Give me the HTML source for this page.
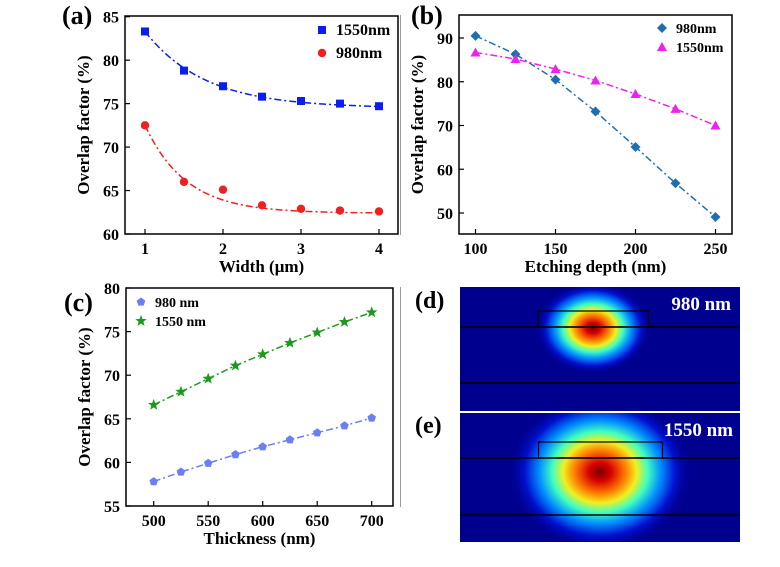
<!DOCTYPE html>
<html><head><meta charset="utf-8"><style>
html,body{margin:0;padding:0;background:#fff;}
svg{display:block;font-family:"Liberation Serif",serif;font-weight:bold;}
</style></head><body>
<svg id="s" width="780" height="567" viewBox="0 0 780 567" xmlns="http://www.w3.org/2000/svg">
<defs>
<radialGradient id="jet">
<stop offset="0" stop-color="#7a0000"/>
<stop offset="0.12" stop-color="#d80000"/>
<stop offset="0.28" stop-color="#ff8000"/>
<stop offset="0.4" stop-color="#f0f020"/>
<stop offset="0.52" stop-color="#40ffc0"/>
<stop offset="0.66" stop-color="#0090ff"/>
<stop offset="0.82" stop-color="#0010d0"/>
<stop offset="1" stop-color="#00008f" stop-opacity="0"/>
</radialGradient>
<clipPath id="cd"><rect x="460" y="287" width="280" height="124"/></clipPath>
<clipPath id="ce"><rect x="460" y="413" width="280" height="129"/></clipPath>
</defs>
<line x1="400.5" y1="15" x2="400.5" y2="235" stroke="#999" stroke-width="1"/>
<line x1="400.5" y1="287" x2="400.5" y2="507" stroke="#999" stroke-width="1"/>
<rect x="460" y="287" width="280" height="124" fill="#00008f"/>
<g clip-path="url(#cd)"><ellipse cx="593" cy="328" rx="58" ry="46" fill="url(#jet)"/></g>
<rect x="538.5" y="311" width="110" height="16" fill="none" stroke="#000" stroke-width="1.2"/>
<line x1="460" y1="327" x2="740" y2="327" stroke="#000" stroke-width="1.5"/>
<line x1="460" y1="383" x2="740" y2="383" stroke="#000" stroke-width="1.5"/>
<text x="731" y="310" fill="#fff" font-size="19" text-anchor="end">980 nm</text>
<rect x="460" y="413" width="280" height="129" fill="#00008f"/>
<g clip-path="url(#ce)"><ellipse cx="600" cy="472" rx="92" ry="78" fill="url(#jet)"/></g>
<rect x="538.5" y="442" width="124" height="16" fill="none" stroke="#000" stroke-width="1.2"/>
<line x1="460" y1="458" x2="740" y2="458" stroke="#000" stroke-width="1.5"/>
<line x1="460" y1="515" x2="740" y2="515" stroke="#000" stroke-width="1.5"/>
<text x="733" y="436" fill="#fff" font-size="19" text-anchor="end">1550 nm</text>
<text x="415" y="308" font-size="24">(d)</text>
<text x="415" y="433" font-size="24">(e)</text>
<g id="plots"></g>
</svg>
<script>
const NS="http://www.w3.org/2000/svg",G=document.getElementById("plots");
function el(t,a,txt){const e=document.createElementNS(NS,t);for(const k in a)e.setAttribute(k,a[k]);if(txt!==undefined)e.textContent=txt;G.appendChild(e);return e;}
function marker(type,x,y,c){
 if(type=="sq")el("rect",{x:x-4,y:y-4,width:8,height:8,fill:c});
 else if(type=="ci")el("circle",{cx:x,cy:y,r:4.2,fill:c});
 else if(type=="di")el("polygon",{points:`${x},${y-5} ${x+5},${y} ${x},${y+5} ${x-5},${y}`,fill:c});
 else if(type=="tr")el("polygon",{points:`${x},${y-5} ${x+5},${y+4} ${x-5},${y+4}`,fill:c});
 else if(type=="pe"){let p=[];for(let i=0;i<5;i++){let a=-Math.PI/2+i*2*Math.PI/5;p.push((x+4.5*Math.cos(a))+","+(y+4.5*Math.sin(a)));}el("polygon",{points:p.join(" "),fill:c});}
 else if(type=="st"){let p=[];for(let i=0;i<10;i++){let r=i%2?2.5:6,a=-Math.PI/2+i*Math.PI/5;p.push((x+r*Math.cos(a))+","+(y+r*Math.sin(a)));}el("polygon",{points:p.join(" "),fill:c});}
}
function panel(o){
 const X=v=>o.x0p+(v-o.x0)*(o.x1p-o.x0p)/(o.x1-o.x0), Y=v=>o.y0p+(v-o.y0)*(o.y1p-o.y0p)/(o.y1-o.y0);
 el("rect",{x:o.L,y:o.T,width:o.R-o.L,height:o.B-o.T,fill:"none",stroke:"#000","stroke-width":1.5});
 o.xt.forEach(v=>{el("line",{x1:X(v),y1:o.B,x2:X(v),y2:o.B-5,stroke:"#000","stroke-width":1.2});el("text",{x:X(v),y:o.B+20,"font-size":16,"text-anchor":"middle"},v);});
 o.yt.forEach(v=>{el("line",{x1:o.L,y1:Y(v),x2:o.L+5,y2:Y(v),stroke:"#000","stroke-width":1.2});el("text",{x:o.L-6,y:Y(v)+6,"font-size":16,"text-anchor":"end"},v);});
 el("text",{x:(o.L+o.R)/2,y:o.B+38,"font-size":17,"text-anchor":"middle"},o.xl);
 const cx=o.L-36,cy=(o.T+o.B)/2;
 el("text",{x:cx,y:cy,"font-size":17,"text-anchor":"middle",transform:`rotate(-90 ${cx} ${cy})`},"Overlap factor (%)");
 el("text",{x:o.lx,y:o.ly,"font-size":26},o.lab);
 o.s.forEach((s,i)=>{
  let pts=s.d.map((v,j)=>[X(o.xs[j]),Y(v)]);
  let path=s.fit?s.fit.map(p=>[X(p[0]),Y(p[1])]):pts;
  el("polyline",{points:path.map(p=>p.join(",")).join(" "),fill:"none",stroke:s.c,"stroke-width":1.5,"stroke-dasharray":"7 3 2 3"});
  pts.forEach(p=>marker(s.m,p[0],p[1],s.c));
  marker(s.m,o.legx,o.legy+i*o.legd,s.c);
  el("text",{x:o.legx+14,y:o.legy+i*o.legd+5,"font-size":o.lfs},s.n);
 });
}
function expfit(xs,d,k){
 const a=d[d.length-1]-0.2,b=(d[0]-a)/Math.exp(-k*xs[0]);let r=[];
 for(let x=xs[0];x<=xs[xs.length-1]+1e-9;x+=0.05)r.push([x,a+b*Math.exp(-k*x)]);return r;}
const xa=[1,1.5,2,2.5,3,3.5,4];
const a1=[83.3,78.8,77,75.8,75.3,75,74.7],a2=[72.5,66,65.1,63.3,62.9,62.7,62.6];
panel({L:125,R:398,T:16,B:234,x0:1,x1:4,x0p:145,x1p:379,y0:60,y1:85,y0p:234,y1p:16.7,
 xt:[1,2,3,4],yt:[60,65,70,75,80,85],xl:"Width (μm)",lab:"(a)",lx:62,ly:24,xs:xa,
 legx:322,legy:30,legd:23,lfs:16,
 s:[{d:a1,c:"#0a1ef0",m:"sq",n:"1550nm",fit:expfit(xa,a1,1.3)},{d:a2,c:"#f02020",m:"ci",n:"980nm",fit:expfit(xa,a2,1.9)}]});
const xb=[100,125,150,175,200,225,250];
panel({L:459,R:732,T:15,B:234,x0:100,x1:250,x0p:475.5,x1p:715.5,y0:50,y1:90,y0p:213,y1p:38,
 xt:[100,150,200,250],yt:[50,60,70,80,90],xl:"Etching depth (nm)",lab:"(b)",lx:411,ly:24,xs:xb,
 legx:662,legy:28,legd:19,lfs:14,
 s:[{d:[90.5,86.3,80.5,73.2,65.1,56.8,49.1],c:"#1f6fb0",m:"di",n:"980nm"},{d:[86.7,85.2,82.9,80.3,77.2,73.8,70],c:"#f020f0",m:"tr",n:"1550nm"}]});
const xc=[500,525,550,575,600,625,650,675,700];
panel({L:126,R:393,T:288,B:506,x0:500,x1:700,x0p:153.7,x1p:371.7,y0:55,y1:80,y0p:506,y1p:288,
 xt:[500,550,600,650,700],yt:[55,60,65,70,75,80],xl:"Thickness (nm)",lab:"(c)",lx:64,ly:311,xs:xc,
 legx:141,legy:302,legd:19,lfs:14,
 s:[{d:[57.8,58.9,59.9,60.9,61.8,62.6,63.4,64.2,65.1],c:"#6a7ef5",m:"pe",n:"980 nm"},{d:[66.6,68.1,69.6,71.1,72.4,73.7,74.9,76.1,77.2],c:"#1a9a1a",m:"st",n:"1550 nm"}]});
</script>
</body></html>
